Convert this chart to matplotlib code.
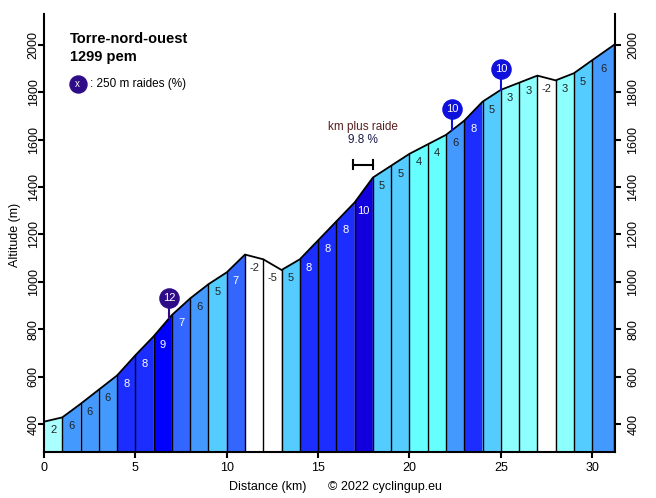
import matplotlib

matplotlib.use("Agg")
import matplotlib.pyplot as plt
import matplotlib.transforms as mtransforms
import numpy as np

plt.rcParams["font.family"] = ["Liberation Sans", "DejaVu Sans"]

# profile
km = [0, 1, 2, 3, 4, 5, 6, 7, 8, 9, 10, 11, 12, 13, 14, 15, 16, 17, 18, 19, 20,
      21, 22, 23, 24, 25, 26, 27, 28, 29, 30, 31.2]
altitude = [410, 428, 485, 545, 605, 690, 770, 860, 930, 990, 1040, 1115, 1095,
            1050, 1095, 1175, 1255, 1335, 1440, 1490, 1540, 1580, 1620, 1680,
            1760, 1810, 1840, 1870, 1850, 1880, 1935, 2000]
gradient = [2, 6, 6, 6, 8, 8, 9, 7, 6, 5, 7, -2, -5, 5, 8, 8, 8, 10, 5, 5, 4, 4,
            6, 8, 5, 3, 3, -2, 3, 5, 6]

# steepest 250 m stretches
steep_km = [6.84, 22.33, 25.0]
steep_pct = [12, 10, 10]

title = "Torre-nord-ouest"
subtitle = "1299 pem"
steepest_km = (16.9, 18.0)
steepest_pct = 9.8

grad_colors = {
    2: "#aaffff", 3: "#8effff", 4: "#66ffff", 5: "#55ccff", 6: "#4499ff",
    7: "#3366ff", 8: "#1c2eff", 9: "#0000ff", 10: "#1100dd",
}
marker_colors = {12: "#2e0c88", 10: "#1010dd"}


def seg_color(g):
    if g <= 1:
        return "white"
    return grad_colors.get(g, "#1100dd")


fig = plt.figure(figsize=(6.56, 4.98), dpi=100)
ax = fig.add_axes([44 / 656, 46 / 498, 571 / 656, 438 / 498])
ymin, ymax = 282, 2130

for i, g in enumerate(gradient):
    x0, x1 = km[i], km[i + 1]
    y0, y1 = altitude[i], altitude[i + 1]
    ax.fill([x0, x1, x1, x0], [ymin, ymin, y1, y0], color=seg_color(g), lw=0)
    ax.plot([x1, x1], [ymin, y1], color="black", lw=1)
    light = g >= 7
    ax.text((x0 + x1) / 2, min(y0, y1) - 35, str(g), ha="center", va="center",
            fontsize=8, color="white" if light else "#222222")

ax.plot(km, altitude, color="black", lw=1.3)

for x, p in zip(steep_km, steep_pct):
    y = np.interp(x, km, altitude)
    c = marker_colors.get(p, "#1010dd")
    ax.plot([x, x], [y, y + 75], color=c, lw=1.5)
    ax.scatter([x], [y + 88], s=190, color=c, zorder=5)
    ax.text(x, y + 88, str(p), ha="center", va="center", color="white",
            fontsize=8, zorder=6)

# steepest km annotation
xm = sum(steepest_km) / 2
ax.plot(steepest_km, [1495, 1495], color="black", lw=1.5)
ax.plot([steepest_km[0]] * 2, [1475, 1515], color="black", lw=1.5)
ax.plot([steepest_km[1]] * 2, [1475, 1515], color="black", lw=1.5)
ax.text(xm, 1655, "km plus raide", ha="center", va="center", fontsize=8.5,
        color="#5a1e1e")
ax.text(xm, 1598, f"{steepest_pct} %", ha="center", va="center", fontsize=8.5,
        color="#1a1a4a")

# titles and legend
ax.text(1.4, 2025, title, fontsize=10.5, fontweight="bold", va="center")
ax.text(1.4, 1949, subtitle, fontsize=10.5, fontweight="bold", va="center")
ax.scatter([1.85], [1835], s=150, color="#2e0c88", zorder=5)
ax.text(1.85, 1835, "x", ha="center", va="center", color="white", fontsize=7,
        zorder=6)
ax.text(2.5, 1835, ": 250 m raides (%)", va="center", fontsize=8.5)

ax.set_xlim(0, 31.25)
ax.set_ylim(ymin, ymax)
ax.set_xticks([0, 5, 10, 15, 20, 25, 30])
ax.set_yticks(range(400, 2001, 200))
ax.spines["top"].set_visible(False)
for s in ["left", "right", "bottom"]:
    ax.spines[s].set_linewidth(1.5)
ax.tick_params(axis="both", direction="out", length=4, width=1.5, labelsize=9)
ax.tick_params(axis="y", right=True, labelright=True, labelrotation=90, pad=2)
shift = mtransforms.ScaledTranslation(4 / 100, 0, fig.dpi_scale_trans)
for t in ax.yaxis.get_major_ticks():
    t.label1.set_ha("right")
    t.label1.set_va("center")
    t.label2.set_ha("left")
    t.label2.set_va("center")
    t.label1.set_transform(t.label1.get_transform() + shift)
    t.label2.set_transform(t.label2.get_transform() + shift)

fig.text(9 / 656, 1 - 235 / 498, "Altitude (m)", rotation=90, ha="left",
         va="center", fontsize=9)
fig.text(268 / 656, 1 - 487 / 498, "Distance (km)", ha="center", va="center",
         fontsize=9)
fig.text(385 / 656, 1 - 487 / 498, "\u00a9 2022 cyclingup.eu", ha="center",
         va="center", fontsize=9)

fig.savefig("out.png", dpi=100)
